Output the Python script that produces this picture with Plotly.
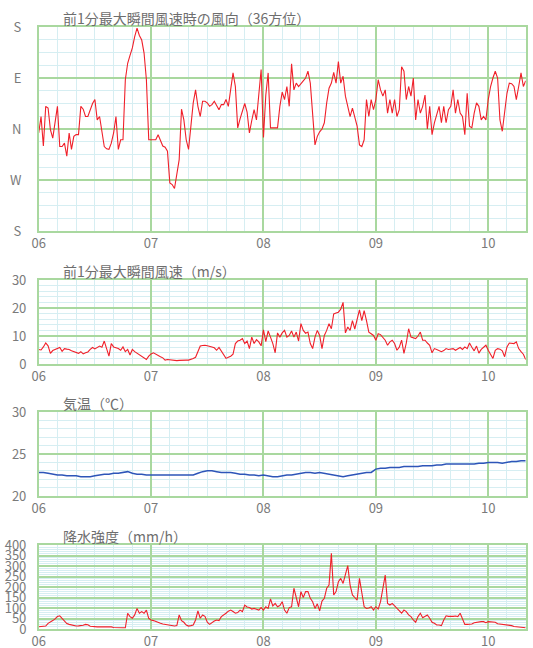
import numpy as np
import plotly.graph_objects as go

# ---------------- data (30-min steps from day 06 00:00, hourly for temperature) ----------------
day_labels = ["06", "07", "08", "09", "10"]
day_ticks = [0, 24, 48, 72, 96]
dir_ticktext = ["S", "W", "N", "E", "S"]
dir_tickvals = [0, 9, 18, 27, 36]

wind_dir = [
    17.3, 20.2, 15.0, 22.0, 21.7, 17.9, 16.4, 19.0,
    22.0, 14.9, 14.9, 15.5, 13.2, 17.3, 14.4, 16.7,
    17.0, 17.0, 22.0, 21.5, 20.2, 20.2, 21.4, 22.5,
    23.2, 19.6, 20.2, 17.3, 14.9, 14.5, 14.4, 15.5,
    17.3, 20.2, 14.4, 16.1, 16.1, 26.7, 29.6, 31.0,
    32.3, 34.3, 35.8, 34.5, 33.7, 31.4, 26.7, 16.1,
    16.1, 16.1, 16.1, 17.0, 15.8, 15.0, 14.8, 14.1,
    8.5, 8.2, 7.5, 9.7, 12.6, 21.5, 19.6, 16.1,
    14.4, 18.5, 22.6, 24.9, 22.0, 20.2, 22.9, 22.9,
    22.6, 22.0, 22.3, 22.9, 22.0, 21.4, 22.3, 22.3,
    23.2, 22.0, 25.0, 27.9, 25.5, 18.2, 19.8, 21.4,
    22.5, 21.0, 17.3, 19.5, 21.4, 19.6, 24.0, 28.5,
    16.5, 24.0, 27.9, 18.2, 18.2, 18.2, 18.2, 22.0,
    24.5, 23.2, 25.5, 22.0, 29.5, 24.9, 26.1, 25.5,
    26.1, 26.5, 27.0, 28.2, 26.1, 20.5, 15.2, 16.7,
    17.5, 18.0, 19.1, 22.6, 25.2, 26.1, 28.0, 26.1,
    29.9, 26.1, 27.3, 23.8, 21.7, 20.2, 21.7, 20.2,
    18.5, 15.2, 14.9, 16.1, 23.2, 20.2, 23.2, 21.4,
    23.2, 26.7, 24.9, 23.8, 24.9, 20.8, 23.2, 20.8,
    23.2, 20.2, 21.4, 29.0, 28.2, 23.2, 25.5, 23.8,
    27.0, 19.6, 23.2, 20.8, 22.0, 24.0, 18.0, 22.0,
    17.0, 19.1, 20.8, 22.0, 19.1, 22.0, 19.1, 21.4,
    22.0, 24.9, 20.8, 23.2, 20.8, 20.2, 17.0, 24.3,
    18.5, 18.2, 20.8, 22.6, 22.0, 19.6, 20.2, 19.6,
    23.2, 25.5, 27.0, 28.2, 27.0, 19.6, 17.6, 20.8,
    24.3, 26.1, 26.0, 25.5, 23.2, 25.5, 27.9, 25.5,
    26.5,
]

wind_speed = [
    5.2, 5.0, 6.1, 7.5, 6.5, 3.8, 4.8, 5.2,
    5.5, 5.9, 4.5, 5.5, 5.3, 5.2, 4.7, 4.4,
    4.0, 3.8, 4.4, 3.6, 4.0, 4.3, 5.2, 5.9,
    5.4, 6.0, 6.4, 6.0, 8.2, 5.5, 2.8, 7.3,
    6.1, 5.8, 5.5, 4.9, 6.1, 4.4, 5.2, 3.2,
    5.2, 4.4, 3.8, 3.2, 2.6, 2.0, 1.6, 2.8,
    3.6, 4.0, 3.5, 2.8, 2.6, 2.2, 1.4, 1.6,
    1.5, 1.4, 1.2, 1.2, 1.3, 1.4, 1.4, 1.4,
    1.4, 1.6, 2.0, 2.4, 4.5, 6.4, 6.6, 6.7,
    6.5, 6.4, 6.1, 5.8, 4.9, 5.9, 4.7, 3.2,
    2.0, 2.4, 2.8, 3.5, 7.3, 8.2, 8.5, 9.1,
    7.3, 8.2, 5.5, 9.6, 7.3, 8.7, 7.9, 6.5,
    12.2, 8.0, 11.8, 9.6, 7.3, 4.0, 11.1, 9.6,
    11.1, 12.0, 9.6, 10.2, 11.8, 9.6, 11.4, 8.2,
    14.4, 12.0, 11.0, 11.4, 7.3, 5.5, 9.6, 12.0,
    10.2, 5.5, 10.2, 12.0, 14.4, 12.6, 17.9, 18.2,
    18.5, 19.6, 22.0, 11.1, 13.2, 12.0, 15.5, 12.5,
    16.1, 19.3, 15.5, 19.1, 15.5, 11.4, 10.8, 10.2,
    8.5, 10.8, 10.5, 9.6, 8.5, 6.7, 7.9, 8.5,
    7.3, 4.9, 6.0, 8.5, 3.8, 7.5, 12.6, 9.6,
    9.4, 9.1, 10.0, 11.4, 8.5, 8.5, 7.5, 6.7,
    4.0, 5.5, 5.2, 4.9, 4.4, 4.8, 5.5, 5.2,
    5.3, 5.5, 4.9, 5.3, 5.9, 5.2, 6.1, 5.5,
    7.5, 6.0, 4.7, 6.4, 3.9, 5.2, 5.8, 6.7,
    4.9, 3.2, 2.0, 4.9, 5.5, 5.3, 4.7, 2.6,
    6.1, 7.5, 7.4, 7.3, 7.9, 5.5, 4.4, 3.5,
    1.6,
]

temperature = [
    22.8, 22.8, 22.7, 22.6, 22.5, 22.5, 22.4, 22.4, 22.4, 22.3, 22.3, 22.3,
    22.4, 22.5, 22.6, 22.6, 22.7, 22.7, 22.8, 22.9, 22.7, 22.6, 22.6, 22.5,
    22.5, 22.5, 22.5, 22.5, 22.5, 22.5, 22.5, 22.5, 22.5, 22.5, 22.7, 22.9,
    23.0, 23.0, 22.9, 22.8, 22.8, 22.8, 22.7, 22.6, 22.6, 22.5, 22.5, 22.4,
    22.5, 22.4, 22.3, 22.3, 22.4, 22.5, 22.5, 22.6, 22.7, 22.8, 22.8, 22.7,
    22.8, 22.7, 22.6, 22.5, 22.4, 22.3, 22.4, 22.5, 22.6, 22.7, 22.8, 22.8,
    23.2, 23.3, 23.3, 23.4, 23.4, 23.4, 23.5, 23.5, 23.5, 23.5, 23.6, 23.6,
    23.6, 23.7, 23.7, 23.8, 23.8, 23.8, 23.8, 23.8, 23.8, 23.8, 23.9, 23.9,
    24.0, 24.0, 24.0, 23.9, 24.0, 24.1, 24.1, 24.2, 24.2,
]

rain = [
    11, 11, 11, 14, 27, 32, 40, 48,
    60, 63, 50, 38, 26, 22, 19, 16,
    14, 15, 16, 18, 22, 20, 13, 11,
    10, 10, 11, 11, 11, 11, 11, 10,
    7, 6, 6, 6, 6, 6, 75, 59,
    51, 67, 98, 75, 83, 75, 90, 51,
    43, 40, 35, 30, 27, 24, 22, 20,
    19, 14, 14, 16, 67, 40, 32, 19,
    14, 16, 19, 43, 86, 51, 67, 60,
    32, 22, 32, 38, 43, 40, 59, 65,
    75, 85, 90, 83, 75, 78, 90, 83,
    114, 105, 102, 95, 98, 94, 90, 102,
    90, 106, 98, 143, 110, 122, 106, 112,
    130, 90, 75, 102, 106, 194, 146, 106,
    178, 150, 178, 178, 146, 130, 98, 120,
    86, 133, 146, 194, 209, 360, 162, 178,
    225, 241, 217, 265, 302, 209, 162, 150,
    138, 241, 162, 106, 98, 100, 106, 90,
    106, 95, 130, 194, 257, 122, 114, 122,
    110, 98, 90, 75, 90, 83, 67, 59,
    43, 32, 59, 75, 54, 60, 67, 51,
    32, 27, 19, 19, 16, 43, 63, 60,
    59, 60, 62, 59, 75, 48, 22, 22,
    22, 24, 30, 32, 35, 35, 35, 30,
    35, 35, 35, 32, 25, 24, 22, 22,
    19, 17, 16, 12, 11, 8, 6, 6,
    6,
]

titles = [
    "前1分最大瞬間風速時の風向（36方位）",
    "前1分最大瞬間風速（m/s）",
    "気温（℃）",
    "降水強度（mm/h）",
]

# ---------------- figure ----------------
W, H = 533, 648
t30_dir = np.arange(len(wind_dir)) * 0.5
t30_spd = np.arange(len(wind_speed)) * 0.5
t30_rain = np.arange(len(rain)) * 0.5
t60 = np.arange(len(temperature)) * 1.0

RED = "#f0202a"
BLUE = "#2d55b8"
MAJOR = "#a9d89f"
MINOR = "#d6eef2"
TXT = "#7a7a7a"
FONT = "Noto Sans CJK JP"

# pixel boxes (top, bottom) of each panel
px_left, px_right = 38.7, 525.7
boxes = [(27, 231), (280, 364), (412, 496), (545, 629)]

fig = go.Figure()
series = [
    (t30_dir, wind_dir, RED, 1.1),
    (t30_spd, wind_speed, RED, 1.1),
    (t60, temperature, BLUE, 1.5),
    (t30_rain, rain, RED, 1.1),
]
for i, (tx, ty, col, lw) in enumerate(series):
    sfx = "" if i == 0 else str(i + 1)
    fig.add_trace(go.Scatter(x=tx, y=ty, mode="lines", line=dict(color=col, width=lw),
                             xaxis="x" + sfx, yaxis="y" + sfx, showlegend=False,
                             hoverinfo="skip"))

yspecs = [
    dict(range=[0, 36], tickvals=dir_tickvals, ticktext=dir_ticktext, minor_dtick=2.25, standoff=13),
    dict(range=[0, 30], tickvals=[0, 10, 20, 30], ticktext=None, minor_dtick=2, standoff=8),
    dict(range=[20, 30], tickvals=[20, 25, 30], ticktext=None, minor_dtick=1, standoff=8),
    dict(range=[0, 400], tickvals=list(range(0, 401, 50)), ticktext=None, minor_dtick=10, standoff=8),
]

layout = dict(
    width=W, height=H, margin=dict(l=0, r=0, t=0, b=0, pad=0, autoexpand=False),
    paper_bgcolor="white", plot_bgcolor="white",
    font=dict(family=FONT, color=TXT, size=13),
    annotations=[],
)
for i, ((top, bot), ys) in enumerate(zip(boxes, yspecs)):
    sfx = "" if i == 0 else str(i + 1)
    xname = "xaxis" + sfx
    yname = "yaxis" + sfx
    layout[xname] = dict(
        domain=[px_left / W, px_right / W], anchor="y" + sfx, automargin=False,
        range=[0, 104], tickmode="array", tickvals=day_ticks, ticktext=day_labels,
        showgrid=True, gridcolor=MAJOR, gridwidth=1.5, zeroline=False,
        showline=True, linecolor=MAJOR, linewidth=1.5, mirror=True,
        ticks="", ticklabelstandoff=0,
        tickfont=dict(family=FONT, size=13, color=TXT),
        minor=dict(tickmode="linear", tick0=0, dtick=4, showgrid=True,
                   gridcolor=MINOR, gridwidth=1),
    )
    yd = dict(
        domain=[1 - bot / H, 1 - top / H], anchor="x" + sfx, automargin=False,
        range=ys["range"], tickmode="array", tickvals=ys["tickvals"],
        showgrid=True, gridcolor=MAJOR, gridwidth=1.5, zeroline=False,
        showline=True, linecolor=MAJOR, linewidth=1.5, mirror=True,
        ticks="", ticklabelstandoff=ys["standoff"],
        tickfont=dict(family=FONT, size=13, color=TXT),
        minor=dict(tickmode="linear", tick0=ys["range"][0], dtick=ys["minor_dtick"],
                   showgrid=True, gridcolor=MINOR, gridwidth=1),
    )
    if ys["ticktext"] is not None:
        yd["ticktext"] = ys["ticktext"]
    layout[yname] = yd
    layout["annotations"].append(dict(
        text=titles[i], xref="paper", yref="paper",
        x=61 / W, y=1 - (top - 9) / H, xanchor="left", yanchor="middle",
        showarrow=False, font=dict(family=FONT, size=14, color="#6e6e6e"),
    ))

fig.update_layout(**layout)
fig.write_html("out.html")
